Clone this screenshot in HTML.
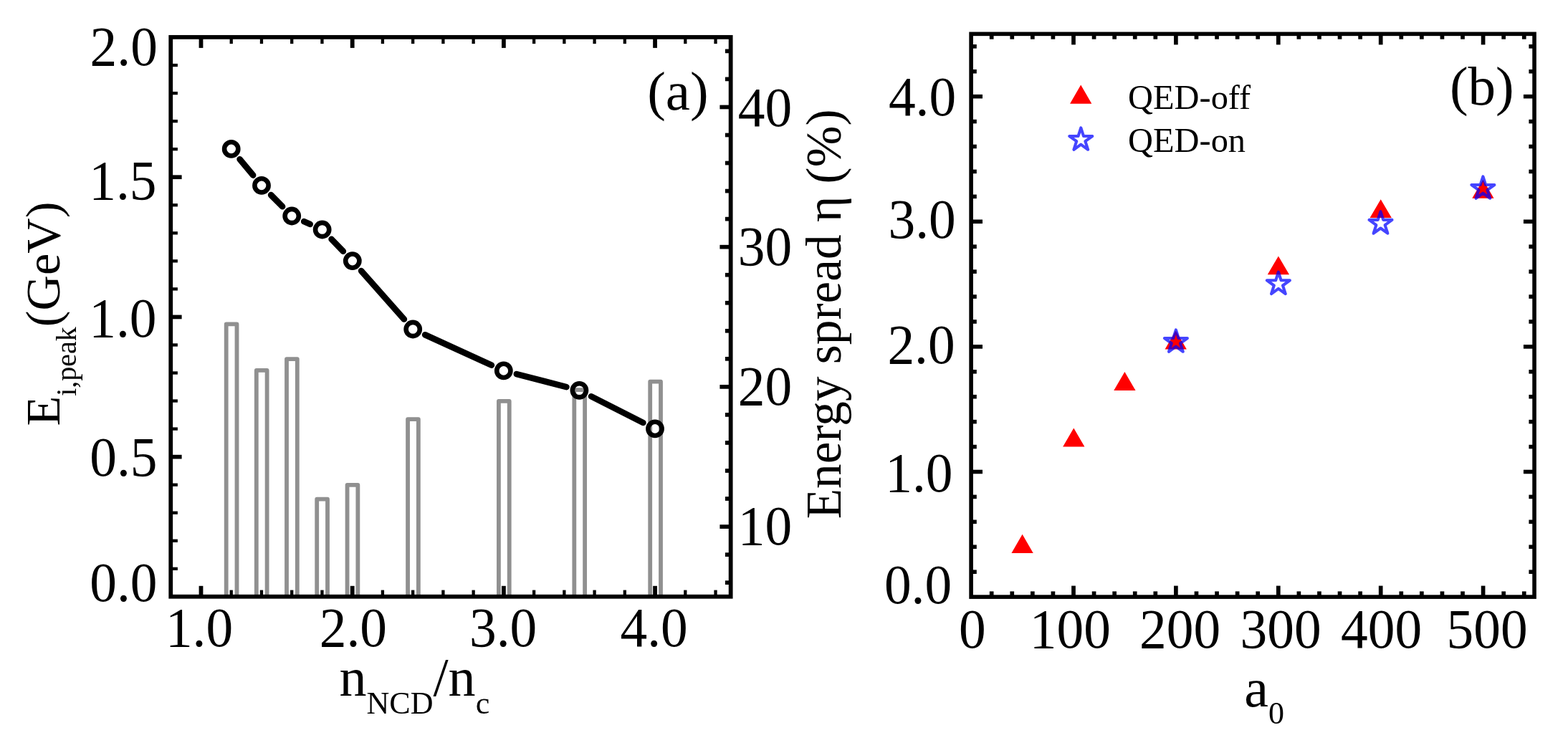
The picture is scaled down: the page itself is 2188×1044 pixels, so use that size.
<!DOCTYPE html>
<html lang="en"><head><meta charset="utf-8"><title>Figure</title>
<style>html,body{margin:0;padding:0;background:#fff;overflow:hidden}svg{display:block}text{font-family:"Liberation Serif", "DejaVu Serif", serif;fill:#000}</style></head><body>
<svg width="2188" height="1044" viewBox="0 0 2188 1044">
<rect width="2188" height="1044" fill="#fff"/>
<g id="panel-a">
<path d="M315.7 832.7 V452.4 H330.5 V832.7" fill="none" stroke="#909090" stroke-width="5.8" stroke-linejoin="round"/>
<path d="M357.8 832.7 V516.9 H372.6 V832.7" fill="none" stroke="#909090" stroke-width="5.8" stroke-linejoin="round"/>
<path d="M400 832.7 V501.1 H414.8 V832.7" fill="none" stroke="#909090" stroke-width="5.8" stroke-linejoin="round"/>
<path d="M442.2 832.7 V696.7 H457 V832.7" fill="none" stroke="#909090" stroke-width="5.8" stroke-linejoin="round"/>
<path d="M484.55 832.7 V676.9 H499.35 V832.7" fill="none" stroke="#909090" stroke-width="5.8" stroke-linejoin="round"/>
<path d="M569.05 832.7 V585.2 H583.85 V832.7" fill="none" stroke="#909090" stroke-width="5.8" stroke-linejoin="round"/>
<path d="M695.9 832.7 V559.9 H710.7 V832.7" fill="none" stroke="#909090" stroke-width="5.8" stroke-linejoin="round"/>
<path d="M801.3 832.7 V544.2 H816.1 V832.7" fill="none" stroke="#909090" stroke-width="5.8" stroke-linejoin="round"/>
<path d="M907.2 832.7 V532.6 H922 V832.7" fill="none" stroke="#909090" stroke-width="5.8" stroke-linejoin="round"/>
<line x1="280.49" y1="832.7" x2="280.49" y2="817.8" stroke="#000" stroke-width="5.8" stroke-linecap="butt"/>
<line x1="280.49" y1="51.85" x2="280.49" y2="66.9" stroke="#000" stroke-width="5.8" stroke-linecap="butt"/>
<line x1="322.73" y1="832.7" x2="322.73" y2="823.6" stroke="#000" stroke-width="4.3" stroke-linecap="butt"/>
<line x1="322.73" y1="51.85" x2="322.73" y2="61.1" stroke="#000" stroke-width="4.3" stroke-linecap="butt"/>
<line x1="364.96" y1="832.7" x2="364.96" y2="823.6" stroke="#000" stroke-width="4.3" stroke-linecap="butt"/>
<line x1="364.96" y1="51.85" x2="364.96" y2="61.1" stroke="#000" stroke-width="4.3" stroke-linecap="butt"/>
<line x1="407.2" y1="832.7" x2="407.2" y2="823.6" stroke="#000" stroke-width="4.3" stroke-linecap="butt"/>
<line x1="407.2" y1="51.85" x2="407.2" y2="61.1" stroke="#000" stroke-width="4.3" stroke-linecap="butt"/>
<line x1="449.44" y1="832.7" x2="449.44" y2="823.6" stroke="#000" stroke-width="4.3" stroke-linecap="butt"/>
<line x1="449.44" y1="51.85" x2="449.44" y2="61.1" stroke="#000" stroke-width="4.3" stroke-linecap="butt"/>
<line x1="491.68" y1="832.7" x2="491.68" y2="817.8" stroke="#000" stroke-width="5.8" stroke-linecap="butt"/>
<line x1="491.68" y1="51.85" x2="491.68" y2="66.9" stroke="#000" stroke-width="5.8" stroke-linecap="butt"/>
<line x1="533.91" y1="832.7" x2="533.91" y2="823.6" stroke="#000" stroke-width="4.3" stroke-linecap="butt"/>
<line x1="533.91" y1="51.85" x2="533.91" y2="61.1" stroke="#000" stroke-width="4.3" stroke-linecap="butt"/>
<line x1="576.15" y1="832.7" x2="576.15" y2="823.6" stroke="#000" stroke-width="4.3" stroke-linecap="butt"/>
<line x1="576.15" y1="51.85" x2="576.15" y2="61.1" stroke="#000" stroke-width="4.3" stroke-linecap="butt"/>
<line x1="618.39" y1="832.7" x2="618.39" y2="823.6" stroke="#000" stroke-width="4.3" stroke-linecap="butt"/>
<line x1="618.39" y1="51.85" x2="618.39" y2="61.1" stroke="#000" stroke-width="4.3" stroke-linecap="butt"/>
<line x1="660.63" y1="832.7" x2="660.63" y2="823.6" stroke="#000" stroke-width="4.3" stroke-linecap="butt"/>
<line x1="660.63" y1="51.85" x2="660.63" y2="61.1" stroke="#000" stroke-width="4.3" stroke-linecap="butt"/>
<line x1="702.87" y1="832.7" x2="702.87" y2="817.8" stroke="#000" stroke-width="5.8" stroke-linecap="butt"/>
<line x1="702.87" y1="51.85" x2="702.87" y2="66.9" stroke="#000" stroke-width="5.8" stroke-linecap="butt"/>
<line x1="745.1" y1="832.7" x2="745.1" y2="823.6" stroke="#000" stroke-width="4.3" stroke-linecap="butt"/>
<line x1="745.1" y1="51.85" x2="745.1" y2="61.1" stroke="#000" stroke-width="4.3" stroke-linecap="butt"/>
<line x1="787.34" y1="832.7" x2="787.34" y2="823.6" stroke="#000" stroke-width="4.3" stroke-linecap="butt"/>
<line x1="787.34" y1="51.85" x2="787.34" y2="61.1" stroke="#000" stroke-width="4.3" stroke-linecap="butt"/>
<line x1="829.58" y1="832.7" x2="829.58" y2="823.6" stroke="#000" stroke-width="4.3" stroke-linecap="butt"/>
<line x1="829.58" y1="51.85" x2="829.58" y2="61.1" stroke="#000" stroke-width="4.3" stroke-linecap="butt"/>
<line x1="871.82" y1="832.7" x2="871.82" y2="823.6" stroke="#000" stroke-width="4.3" stroke-linecap="butt"/>
<line x1="871.82" y1="51.85" x2="871.82" y2="61.1" stroke="#000" stroke-width="4.3" stroke-linecap="butt"/>
<line x1="914.06" y1="832.7" x2="914.06" y2="817.8" stroke="#000" stroke-width="5.8" stroke-linecap="butt"/>
<line x1="914.06" y1="51.85" x2="914.06" y2="66.9" stroke="#000" stroke-width="5.8" stroke-linecap="butt"/>
<line x1="956.29" y1="832.7" x2="956.29" y2="823.6" stroke="#000" stroke-width="4.3" stroke-linecap="butt"/>
<line x1="956.29" y1="51.85" x2="956.29" y2="61.1" stroke="#000" stroke-width="4.3" stroke-linecap="butt"/>
<line x1="998.53" y1="832.7" x2="998.53" y2="823.6" stroke="#000" stroke-width="4.3" stroke-linecap="butt"/>
<line x1="998.53" y1="51.85" x2="998.53" y2="61.1" stroke="#000" stroke-width="4.3" stroke-linecap="butt"/>
<line x1="238.25" y1="793.81" x2="247.9" y2="793.81" stroke="#000" stroke-width="4.3" stroke-linecap="butt"/>
<line x1="238.25" y1="754.76" x2="247.9" y2="754.76" stroke="#000" stroke-width="4.3" stroke-linecap="butt"/>
<line x1="238.25" y1="715.72" x2="247.9" y2="715.72" stroke="#000" stroke-width="4.3" stroke-linecap="butt"/>
<line x1="238.25" y1="676.68" x2="247.9" y2="676.68" stroke="#000" stroke-width="4.3" stroke-linecap="butt"/>
<line x1="238.25" y1="637.64" x2="253.6" y2="637.64" stroke="#000" stroke-width="5.7" stroke-linecap="butt"/>
<line x1="238.25" y1="598.59" x2="247.9" y2="598.59" stroke="#000" stroke-width="4.3" stroke-linecap="butt"/>
<line x1="238.25" y1="559.55" x2="247.9" y2="559.55" stroke="#000" stroke-width="4.3" stroke-linecap="butt"/>
<line x1="238.25" y1="520.51" x2="247.9" y2="520.51" stroke="#000" stroke-width="4.3" stroke-linecap="butt"/>
<line x1="238.25" y1="481.47" x2="247.9" y2="481.47" stroke="#000" stroke-width="4.3" stroke-linecap="butt"/>
<line x1="238.25" y1="442.43" x2="253.6" y2="442.43" stroke="#000" stroke-width="5.7" stroke-linecap="butt"/>
<line x1="238.25" y1="403.38" x2="247.9" y2="403.38" stroke="#000" stroke-width="4.3" stroke-linecap="butt"/>
<line x1="238.25" y1="364.34" x2="247.9" y2="364.34" stroke="#000" stroke-width="4.3" stroke-linecap="butt"/>
<line x1="238.25" y1="325.3" x2="247.9" y2="325.3" stroke="#000" stroke-width="4.3" stroke-linecap="butt"/>
<line x1="238.25" y1="286.25" x2="247.9" y2="286.25" stroke="#000" stroke-width="4.3" stroke-linecap="butt"/>
<line x1="238.25" y1="247.21" x2="253.6" y2="247.21" stroke="#000" stroke-width="5.7" stroke-linecap="butt"/>
<line x1="238.25" y1="208.17" x2="247.9" y2="208.17" stroke="#000" stroke-width="4.3" stroke-linecap="butt"/>
<line x1="238.25" y1="169.13" x2="247.9" y2="169.13" stroke="#000" stroke-width="4.3" stroke-linecap="butt"/>
<line x1="238.25" y1="130.09" x2="247.9" y2="130.09" stroke="#000" stroke-width="4.3" stroke-linecap="butt"/>
<line x1="238.25" y1="91.04" x2="247.9" y2="91.04" stroke="#000" stroke-width="4.3" stroke-linecap="butt"/>
<line x1="1019.65" y1="813.18" x2="1011.9" y2="813.18" stroke="#000" stroke-width="5.7" stroke-linecap="butt"/>
<line x1="1019.65" y1="774.14" x2="1011.9" y2="774.14" stroke="#000" stroke-width="5.7" stroke-linecap="butt"/>
<line x1="1019.65" y1="735.09" x2="1004.4" y2="735.09" stroke="#000" stroke-width="5.7" stroke-linecap="butt"/>
<line x1="1019.65" y1="696.05" x2="1011.9" y2="696.05" stroke="#000" stroke-width="5.7" stroke-linecap="butt"/>
<line x1="1019.65" y1="657.01" x2="1011.9" y2="657.01" stroke="#000" stroke-width="5.7" stroke-linecap="butt"/>
<line x1="1019.65" y1="617.97" x2="1011.9" y2="617.97" stroke="#000" stroke-width="5.7" stroke-linecap="butt"/>
<line x1="1019.65" y1="578.92" x2="1011.9" y2="578.92" stroke="#000" stroke-width="5.7" stroke-linecap="butt"/>
<line x1="1019.65" y1="539.88" x2="1004.4" y2="539.88" stroke="#000" stroke-width="5.7" stroke-linecap="butt"/>
<line x1="1019.65" y1="500.84" x2="1011.9" y2="500.84" stroke="#000" stroke-width="5.7" stroke-linecap="butt"/>
<line x1="1019.65" y1="461.8" x2="1011.9" y2="461.8" stroke="#000" stroke-width="5.7" stroke-linecap="butt"/>
<line x1="1019.65" y1="422.75" x2="1011.9" y2="422.75" stroke="#000" stroke-width="5.7" stroke-linecap="butt"/>
<line x1="1019.65" y1="383.71" x2="1011.9" y2="383.71" stroke="#000" stroke-width="5.7" stroke-linecap="butt"/>
<line x1="1019.65" y1="344.67" x2="1004.4" y2="344.67" stroke="#000" stroke-width="5.7" stroke-linecap="butt"/>
<line x1="1019.65" y1="305.63" x2="1011.9" y2="305.63" stroke="#000" stroke-width="5.7" stroke-linecap="butt"/>
<line x1="1019.65" y1="266.58" x2="1011.9" y2="266.58" stroke="#000" stroke-width="5.7" stroke-linecap="butt"/>
<line x1="1019.65" y1="227.54" x2="1011.9" y2="227.54" stroke="#000" stroke-width="5.7" stroke-linecap="butt"/>
<line x1="1019.65" y1="188.5" x2="1011.9" y2="188.5" stroke="#000" stroke-width="5.7" stroke-linecap="butt"/>
<line x1="1019.65" y1="149.46" x2="1004.4" y2="149.46" stroke="#000" stroke-width="5.7" stroke-linecap="butt"/>
<line x1="1019.65" y1="110.41" x2="1011.9" y2="110.41" stroke="#000" stroke-width="5.7" stroke-linecap="butt"/>
<line x1="1019.65" y1="71.37" x2="1011.9" y2="71.37" stroke="#000" stroke-width="5.7" stroke-linecap="butt"/>
<line x1="334.57" y1="222.22" x2="353.13" y2="244.58" stroke="#000" stroke-width="8.6" stroke-linecap="round"/>
<line x1="378.09" y1="272.11" x2="394.11" y2="288.29" stroke="#000" stroke-width="8.6" stroke-linecap="round"/>
<line x1="424.18" y1="309.1" x2="432.67" y2="312.9" stroke="#000" stroke-width="8.6" stroke-linecap="round"/>
<line x1="462.58" y1="333.87" x2="478.87" y2="350.73" stroke="#000" stroke-width="8.6" stroke-linecap="round"/>
<line x1="504.12" y1="378.03" x2="563.88" y2="445.57" stroke="#000" stroke-width="8.6" stroke-linecap="round"/>
<line x1="593.11" y1="467.24" x2="685.89" y2="509.66" stroke="#000" stroke-width="8.6" stroke-linecap="round"/>
<line x1="720.8" y1="522.07" x2="790.4" y2="540.13" stroke="#000" stroke-width="8.6" stroke-linecap="round"/>
<line x1="824.99" y1="553.22" x2="897.41" y2="589.98" stroke="#000" stroke-width="8.6" stroke-linecap="round"/>
<circle cx="322.7" cy="207.9" r="9.6" fill="none" stroke="#000" stroke-width="6.6"/>
<circle cx="365" cy="258.9" r="9.6" fill="none" stroke="#000" stroke-width="6.6"/>
<circle cx="407.2" cy="301.5" r="9.6" fill="none" stroke="#000" stroke-width="6.6"/>
<circle cx="449.65" cy="320.5" r="9.6" fill="none" stroke="#000" stroke-width="6.6"/>
<circle cx="491.8" cy="364.1" r="9.6" fill="none" stroke="#000" stroke-width="6.6"/>
<circle cx="576.2" cy="459.5" r="9.6" fill="none" stroke="#000" stroke-width="6.6"/>
<circle cx="702.8" cy="517.4" r="9.6" fill="none" stroke="#000" stroke-width="6.6"/>
<circle cx="808.4" cy="544.8" r="9.6" fill="none" stroke="#000" stroke-width="6.6"/>
<circle cx="914" cy="598.4" r="9.6" fill="none" stroke="#000" stroke-width="6.6"/>
<rect x="238.25" y="51.85" width="781.4" height="780.85" fill="none" stroke="#000" stroke-width="5.8"/>
<text font-size="75.4" text-anchor="start" transform="translate(125.6 90.9) scale(1 1.03)">2.0</text>
<text font-size="75.4" text-anchor="start" transform="translate(124.3 277.8) scale(1 1.03)">1.5</text>
<text font-size="75.4" text-anchor="start" transform="translate(124.3 470) scale(1 1.03)">1.0</text>
<text font-size="75.4" text-anchor="start" transform="translate(125.2 664.1) scale(1 1.03)">0.5</text>
<text font-size="75.4" text-anchor="start" transform="translate(125.2 839) scale(1 1.03)">0.0</text>
<text font-size="75.4" text-anchor="start" transform="translate(230.9 901.8) scale(1 1.03)">1.0</text>
<text font-size="75.4" text-anchor="start" transform="translate(445.8 901.8) scale(1 1.03)">2.0</text>
<text font-size="75.4" text-anchor="start" transform="translate(655 901.8) scale(1 1.03)">3.0</text>
<text font-size="75.4" text-anchor="start" transform="translate(865.5 901.8) scale(1 1.03)">4.0</text>
<text font-size="75.4" text-anchor="start" transform="translate(1029.8 175.5) scale(1 1.03)">40</text>
<text font-size="75.4" text-anchor="start" transform="translate(1029.8 369.8) scale(1 1.03)">30</text>
<text font-size="75.4" text-anchor="start" transform="translate(1029.8 565.1) scale(1 1.03)">20</text>
<text font-size="75.4" text-anchor="start" transform="translate(1029.8 760.4) scale(1 1.03)">10</text>
<text x="945.9" y="152.8" font-size="77" text-anchor="middle">(a)</text>
<text x="473.6" y="971.4" font-size="76">n<tspan font-size="44" dy="24.9">NCD</tspan><tspan dy="-24.9">/n</tspan><tspan font-size="44" dy="24.2">c</tspan></text>
<text x="83.2" y="594.6" font-size="68.4" transform="rotate(-90 83.2 594.6)">E<tspan font-size="40" dy="22.7">i,peak</tspan><tspan dy="-22.7">(GeV)</tspan></text>
<text x="1173.4" y="438.4" font-size="69.3" text-anchor="middle" transform="rotate(-90 1173.4 438.4)">Energy spread η (%)</text>
</g>
<g id="panel-b">
<line x1="1383.68" y1="833.1" x2="1383.68" y2="825.4" stroke="#000" stroke-width="5.7" stroke-linecap="butt"/>
<line x1="1383.68" y1="47.35" x2="1383.68" y2="54.7" stroke="#000" stroke-width="5.7" stroke-linecap="butt"/>
<line x1="1412.26" y1="833.1" x2="1412.26" y2="825.4" stroke="#000" stroke-width="5.7" stroke-linecap="butt"/>
<line x1="1412.26" y1="47.35" x2="1412.26" y2="54.7" stroke="#000" stroke-width="5.7" stroke-linecap="butt"/>
<line x1="1440.84" y1="833.1" x2="1440.84" y2="825.4" stroke="#000" stroke-width="5.7" stroke-linecap="butt"/>
<line x1="1440.84" y1="47.35" x2="1440.84" y2="54.7" stroke="#000" stroke-width="5.7" stroke-linecap="butt"/>
<line x1="1469.42" y1="833.1" x2="1469.42" y2="825.4" stroke="#000" stroke-width="5.7" stroke-linecap="butt"/>
<line x1="1469.42" y1="47.35" x2="1469.42" y2="54.7" stroke="#000" stroke-width="5.7" stroke-linecap="butt"/>
<line x1="1498" y1="833.1" x2="1498" y2="817.6" stroke="#000" stroke-width="5.7" stroke-linecap="butt"/>
<line x1="1498" y1="47.35" x2="1498" y2="62.4" stroke="#000" stroke-width="5.7" stroke-linecap="butt"/>
<line x1="1526.58" y1="833.1" x2="1526.58" y2="825.4" stroke="#000" stroke-width="5.7" stroke-linecap="butt"/>
<line x1="1526.58" y1="47.35" x2="1526.58" y2="54.7" stroke="#000" stroke-width="5.7" stroke-linecap="butt"/>
<line x1="1555.16" y1="833.1" x2="1555.16" y2="825.4" stroke="#000" stroke-width="5.7" stroke-linecap="butt"/>
<line x1="1555.16" y1="47.35" x2="1555.16" y2="54.7" stroke="#000" stroke-width="5.7" stroke-linecap="butt"/>
<line x1="1583.74" y1="833.1" x2="1583.74" y2="825.4" stroke="#000" stroke-width="5.7" stroke-linecap="butt"/>
<line x1="1583.74" y1="47.35" x2="1583.74" y2="54.7" stroke="#000" stroke-width="5.7" stroke-linecap="butt"/>
<line x1="1612.32" y1="833.1" x2="1612.32" y2="825.4" stroke="#000" stroke-width="5.7" stroke-linecap="butt"/>
<line x1="1612.32" y1="47.35" x2="1612.32" y2="54.7" stroke="#000" stroke-width="5.7" stroke-linecap="butt"/>
<line x1="1640.9" y1="833.1" x2="1640.9" y2="817.6" stroke="#000" stroke-width="5.7" stroke-linecap="butt"/>
<line x1="1640.9" y1="47.35" x2="1640.9" y2="62.4" stroke="#000" stroke-width="5.7" stroke-linecap="butt"/>
<line x1="1669.48" y1="833.1" x2="1669.48" y2="825.4" stroke="#000" stroke-width="5.7" stroke-linecap="butt"/>
<line x1="1669.48" y1="47.35" x2="1669.48" y2="54.7" stroke="#000" stroke-width="5.7" stroke-linecap="butt"/>
<line x1="1698.06" y1="833.1" x2="1698.06" y2="825.4" stroke="#000" stroke-width="5.7" stroke-linecap="butt"/>
<line x1="1698.06" y1="47.35" x2="1698.06" y2="54.7" stroke="#000" stroke-width="5.7" stroke-linecap="butt"/>
<line x1="1726.64" y1="833.1" x2="1726.64" y2="825.4" stroke="#000" stroke-width="5.7" stroke-linecap="butt"/>
<line x1="1726.64" y1="47.35" x2="1726.64" y2="54.7" stroke="#000" stroke-width="5.7" stroke-linecap="butt"/>
<line x1="1755.22" y1="833.1" x2="1755.22" y2="825.4" stroke="#000" stroke-width="5.7" stroke-linecap="butt"/>
<line x1="1755.22" y1="47.35" x2="1755.22" y2="54.7" stroke="#000" stroke-width="5.7" stroke-linecap="butt"/>
<line x1="1783.8" y1="833.1" x2="1783.8" y2="817.6" stroke="#000" stroke-width="5.7" stroke-linecap="butt"/>
<line x1="1783.8" y1="47.35" x2="1783.8" y2="62.4" stroke="#000" stroke-width="5.7" stroke-linecap="butt"/>
<line x1="1812.38" y1="833.1" x2="1812.38" y2="825.4" stroke="#000" stroke-width="5.7" stroke-linecap="butt"/>
<line x1="1812.38" y1="47.35" x2="1812.38" y2="54.7" stroke="#000" stroke-width="5.7" stroke-linecap="butt"/>
<line x1="1840.96" y1="833.1" x2="1840.96" y2="825.4" stroke="#000" stroke-width="5.7" stroke-linecap="butt"/>
<line x1="1840.96" y1="47.35" x2="1840.96" y2="54.7" stroke="#000" stroke-width="5.7" stroke-linecap="butt"/>
<line x1="1869.54" y1="833.1" x2="1869.54" y2="825.4" stroke="#000" stroke-width="5.7" stroke-linecap="butt"/>
<line x1="1869.54" y1="47.35" x2="1869.54" y2="54.7" stroke="#000" stroke-width="5.7" stroke-linecap="butt"/>
<line x1="1898.12" y1="833.1" x2="1898.12" y2="825.4" stroke="#000" stroke-width="5.7" stroke-linecap="butt"/>
<line x1="1898.12" y1="47.35" x2="1898.12" y2="54.7" stroke="#000" stroke-width="5.7" stroke-linecap="butt"/>
<line x1="1926.7" y1="833.1" x2="1926.7" y2="817.6" stroke="#000" stroke-width="5.7" stroke-linecap="butt"/>
<line x1="1926.7" y1="47.35" x2="1926.7" y2="62.4" stroke="#000" stroke-width="5.7" stroke-linecap="butt"/>
<line x1="1955.28" y1="833.1" x2="1955.28" y2="825.4" stroke="#000" stroke-width="5.7" stroke-linecap="butt"/>
<line x1="1955.28" y1="47.35" x2="1955.28" y2="54.7" stroke="#000" stroke-width="5.7" stroke-linecap="butt"/>
<line x1="1983.86" y1="833.1" x2="1983.86" y2="825.4" stroke="#000" stroke-width="5.7" stroke-linecap="butt"/>
<line x1="1983.86" y1="47.35" x2="1983.86" y2="54.7" stroke="#000" stroke-width="5.7" stroke-linecap="butt"/>
<line x1="2012.44" y1="833.1" x2="2012.44" y2="825.4" stroke="#000" stroke-width="5.7" stroke-linecap="butt"/>
<line x1="2012.44" y1="47.35" x2="2012.44" y2="54.7" stroke="#000" stroke-width="5.7" stroke-linecap="butt"/>
<line x1="2041.02" y1="833.1" x2="2041.02" y2="825.4" stroke="#000" stroke-width="5.7" stroke-linecap="butt"/>
<line x1="2041.02" y1="47.35" x2="2041.02" y2="54.7" stroke="#000" stroke-width="5.7" stroke-linecap="butt"/>
<line x1="2069.6" y1="833.1" x2="2069.6" y2="817.6" stroke="#000" stroke-width="5.7" stroke-linecap="butt"/>
<line x1="2069.6" y1="47.35" x2="2069.6" y2="62.4" stroke="#000" stroke-width="5.7" stroke-linecap="butt"/>
<line x1="2098.18" y1="833.1" x2="2098.18" y2="825.4" stroke="#000" stroke-width="5.7" stroke-linecap="butt"/>
<line x1="2098.18" y1="47.35" x2="2098.18" y2="54.7" stroke="#000" stroke-width="5.7" stroke-linecap="butt"/>
<line x1="2126.76" y1="833.1" x2="2126.76" y2="825.4" stroke="#000" stroke-width="5.7" stroke-linecap="butt"/>
<line x1="2126.76" y1="47.35" x2="2126.76" y2="54.7" stroke="#000" stroke-width="5.7" stroke-linecap="butt"/>
<line x1="1355.1" y1="798.18" x2="1362.8" y2="798.18" stroke="#000" stroke-width="5.6" stroke-linecap="butt"/>
<line x1="2141.05" y1="798.18" x2="2133.4" y2="798.18" stroke="#000" stroke-width="5.6" stroke-linecap="butt"/>
<line x1="1355.1" y1="763.26" x2="1362.8" y2="763.26" stroke="#000" stroke-width="5.6" stroke-linecap="butt"/>
<line x1="2141.05" y1="763.26" x2="2133.4" y2="763.26" stroke="#000" stroke-width="5.6" stroke-linecap="butt"/>
<line x1="1355.1" y1="728.33" x2="1362.8" y2="728.33" stroke="#000" stroke-width="5.6" stroke-linecap="butt"/>
<line x1="2141.05" y1="728.33" x2="2133.4" y2="728.33" stroke="#000" stroke-width="5.6" stroke-linecap="butt"/>
<line x1="1355.1" y1="693.41" x2="1362.8" y2="693.41" stroke="#000" stroke-width="5.6" stroke-linecap="butt"/>
<line x1="2141.05" y1="693.41" x2="2133.4" y2="693.41" stroke="#000" stroke-width="5.6" stroke-linecap="butt"/>
<line x1="1355.1" y1="658.49" x2="1371" y2="658.49" stroke="#000" stroke-width="5.6" stroke-linecap="butt"/>
<line x1="2141.05" y1="658.49" x2="2125.9" y2="658.49" stroke="#000" stroke-width="5.6" stroke-linecap="butt"/>
<line x1="1355.1" y1="623.57" x2="1362.8" y2="623.57" stroke="#000" stroke-width="5.6" stroke-linecap="butt"/>
<line x1="2141.05" y1="623.57" x2="2133.4" y2="623.57" stroke="#000" stroke-width="5.6" stroke-linecap="butt"/>
<line x1="1355.1" y1="588.64" x2="1362.8" y2="588.64" stroke="#000" stroke-width="5.6" stroke-linecap="butt"/>
<line x1="2141.05" y1="588.64" x2="2133.4" y2="588.64" stroke="#000" stroke-width="5.6" stroke-linecap="butt"/>
<line x1="1355.1" y1="553.72" x2="1362.8" y2="553.72" stroke="#000" stroke-width="5.6" stroke-linecap="butt"/>
<line x1="2141.05" y1="553.72" x2="2133.4" y2="553.72" stroke="#000" stroke-width="5.6" stroke-linecap="butt"/>
<line x1="1355.1" y1="518.8" x2="1362.8" y2="518.8" stroke="#000" stroke-width="5.6" stroke-linecap="butt"/>
<line x1="2141.05" y1="518.8" x2="2133.4" y2="518.8" stroke="#000" stroke-width="5.6" stroke-linecap="butt"/>
<line x1="1355.1" y1="483.88" x2="1371" y2="483.88" stroke="#000" stroke-width="5.6" stroke-linecap="butt"/>
<line x1="2141.05" y1="483.88" x2="2125.9" y2="483.88" stroke="#000" stroke-width="5.6" stroke-linecap="butt"/>
<line x1="1355.1" y1="448.96" x2="1362.8" y2="448.96" stroke="#000" stroke-width="5.6" stroke-linecap="butt"/>
<line x1="2141.05" y1="448.96" x2="2133.4" y2="448.96" stroke="#000" stroke-width="5.6" stroke-linecap="butt"/>
<line x1="1355.1" y1="414.03" x2="1362.8" y2="414.03" stroke="#000" stroke-width="5.6" stroke-linecap="butt"/>
<line x1="2141.05" y1="414.03" x2="2133.4" y2="414.03" stroke="#000" stroke-width="5.6" stroke-linecap="butt"/>
<line x1="1355.1" y1="379.11" x2="1362.8" y2="379.11" stroke="#000" stroke-width="5.6" stroke-linecap="butt"/>
<line x1="2141.05" y1="379.11" x2="2133.4" y2="379.11" stroke="#000" stroke-width="5.6" stroke-linecap="butt"/>
<line x1="1355.1" y1="344.19" x2="1362.8" y2="344.19" stroke="#000" stroke-width="5.6" stroke-linecap="butt"/>
<line x1="2141.05" y1="344.19" x2="2133.4" y2="344.19" stroke="#000" stroke-width="5.6" stroke-linecap="butt"/>
<line x1="1355.1" y1="309.27" x2="1371" y2="309.27" stroke="#000" stroke-width="5.6" stroke-linecap="butt"/>
<line x1="2141.05" y1="309.27" x2="2125.9" y2="309.27" stroke="#000" stroke-width="5.6" stroke-linecap="butt"/>
<line x1="1355.1" y1="274.34" x2="1362.8" y2="274.34" stroke="#000" stroke-width="5.6" stroke-linecap="butt"/>
<line x1="2141.05" y1="274.34" x2="2133.4" y2="274.34" stroke="#000" stroke-width="5.6" stroke-linecap="butt"/>
<line x1="1355.1" y1="239.42" x2="1362.8" y2="239.42" stroke="#000" stroke-width="5.6" stroke-linecap="butt"/>
<line x1="2141.05" y1="239.42" x2="2133.4" y2="239.42" stroke="#000" stroke-width="5.6" stroke-linecap="butt"/>
<line x1="1355.1" y1="204.5" x2="1362.8" y2="204.5" stroke="#000" stroke-width="5.6" stroke-linecap="butt"/>
<line x1="2141.05" y1="204.5" x2="2133.4" y2="204.5" stroke="#000" stroke-width="5.6" stroke-linecap="butt"/>
<line x1="1355.1" y1="169.58" x2="1362.8" y2="169.58" stroke="#000" stroke-width="5.6" stroke-linecap="butt"/>
<line x1="2141.05" y1="169.58" x2="2133.4" y2="169.58" stroke="#000" stroke-width="5.6" stroke-linecap="butt"/>
<line x1="1355.1" y1="134.66" x2="1371" y2="134.66" stroke="#000" stroke-width="5.6" stroke-linecap="butt"/>
<line x1="2141.05" y1="134.66" x2="2125.9" y2="134.66" stroke="#000" stroke-width="5.6" stroke-linecap="butt"/>
<line x1="1355.1" y1="99.73" x2="1362.8" y2="99.73" stroke="#000" stroke-width="5.6" stroke-linecap="butt"/>
<line x1="2141.05" y1="99.73" x2="2133.4" y2="99.73" stroke="#000" stroke-width="5.6" stroke-linecap="butt"/>
<line x1="1355.1" y1="64.81" x2="1362.8" y2="64.81" stroke="#000" stroke-width="5.6" stroke-linecap="butt"/>
<line x1="2141.05" y1="64.81" x2="2133.4" y2="64.81" stroke="#000" stroke-width="5.6" stroke-linecap="butt"/>
<rect x="1355.1" y="47.35" width="785.95" height="785.75" fill="none" stroke="#000" stroke-width="5.6"/>
<path d="M1426.6 745.7 L1441.75 772 L1411.45 772 Z" fill="#ff0000"/>
<path d="M1498.3 597.4 L1513.45 623.6 L1483.15 623.6 Z" fill="#ff0000"/>
<path d="M1569.4 519.1 L1584.55 544.9 L1554.25 544.9 Z" fill="#ff0000"/>
<path d="M1640.7 461.6 L1655.85 487.5 L1625.55 487.5 Z" fill="#ff0000"/>
<path d="M1783.9 357.4 L1799.05 383.2 L1768.75 383.2 Z" fill="#ff0000"/>
<path d="M1926.7 278.3 L1941.85 303.9 L1911.55 303.9 Z" fill="#ff0000"/>
<path d="M2069.4 250.8 L2084.55 276.7 L2054.25 276.7 Z" fill="#ff0000"/>
<path d="M1640.9 460.4 L1644.67 472.01 L1656.88 472.01 L1647 479.18 L1650.77 490.79 L1640.9 483.62 L1631.03 490.79 L1634.8 479.18 L1624.92 472.01 L1637.13 472.01 Z" fill="none" stroke="#0000ff" stroke-opacity="0.73" stroke-width="4.1" stroke-linejoin="round"/>
<path d="M1783.9 379.7 L1787.67 391.31 L1799.88 391.31 L1790 398.48 L1793.77 410.09 L1783.9 402.92 L1774.03 410.09 L1777.8 398.48 L1767.92 391.31 L1780.13 391.31 Z" fill="none" stroke="#0000ff" stroke-opacity="0.73" stroke-width="4.1" stroke-linejoin="round"/>
<path d="M1926.5 295.3 L1930.27 306.91 L1942.48 306.91 L1932.6 314.08 L1936.37 325.69 L1926.5 318.52 L1916.63 325.69 L1920.4 314.08 L1910.52 306.91 L1922.73 306.91 Z" fill="none" stroke="#0000ff" stroke-opacity="0.73" stroke-width="4.1" stroke-linejoin="round"/>
<path d="M2069.4 246.4 L2073.17 258.01 L2085.38 258.01 L2075.5 265.18 L2079.27 276.79 L2069.4 269.62 L2059.53 276.79 L2063.3 265.18 L2053.42 258.01 L2065.63 258.01 Z" fill="none" stroke="#0000ff" stroke-opacity="0.73" stroke-width="4.1" stroke-linejoin="round"/>
<path d="M1508.2 118.6 L1523.35 144.8 L1493.05 144.8 Z" fill="#ff0000"/>
<path d="M1508.3 178.4 L1512.07 190.01 L1524.28 190.01 L1514.4 197.18 L1518.17 208.79 L1508.3 201.62 L1498.43 208.79 L1502.2 197.18 L1492.32 190.01 L1504.53 190.01 Z" fill="none" stroke="#0000ff" stroke-opacity="0.73" stroke-width="4.1" stroke-linejoin="round"/>
<text x="1574.1" y="152" font-size="48.4" text-anchor="start">QED-off</text>
<text x="1574.1" y="211.8" font-size="48.4" text-anchor="start">QED-on</text>
<text x="2067.85" y="146.3" font-size="77" text-anchor="middle">(b)</text>
<text font-size="75.4" text-anchor="start" transform="translate(1239.9 161) scale(1 1.03)">4.0</text>
<text font-size="75.4" text-anchor="start" transform="translate(1239.5 332.3) scale(1 1.03)">3.0</text>
<text font-size="75.4" text-anchor="start" transform="translate(1238.4 506.6) scale(1 1.03)">2.0</text>
<text font-size="75.4" text-anchor="start" transform="translate(1235.3 685.7) scale(1 1.03)">1.0</text>
<text font-size="75.4" text-anchor="start" transform="translate(1233.9 842) scale(1 1.03)">0.0</text>
<text font-size="75.4" text-anchor="start" transform="translate(1338.05 904.2) scale(1 1.03)">0</text>
<text font-size="75.4" text-anchor="start" transform="translate(1436.8 904.2) scale(1 1.03)">100</text>
<text font-size="75.4" text-anchor="start" transform="translate(1590 904.2) scale(1 1.03)">200</text>
<text font-size="75.4" text-anchor="start" transform="translate(1730.5 904.2) scale(1 1.03)">300</text>
<text font-size="75.4" text-anchor="start" transform="translate(1871 904.2) scale(1 1.03)">400</text>
<text font-size="75.4" text-anchor="start" transform="translate(2018.5 904.2) scale(1 1.03)">500</text>
<text x="1736.3" y="986.3" font-size="76">a<tspan font-size="44" dy="24">0</tspan></text>
</g>
</svg></body></html>
